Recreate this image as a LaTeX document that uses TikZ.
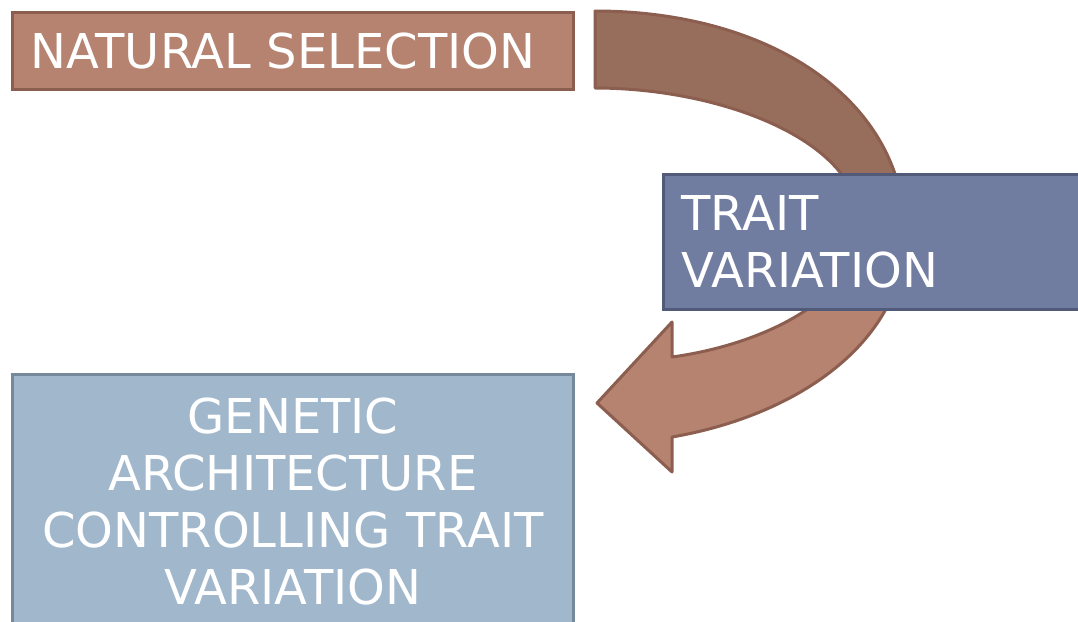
\documentclass[tikz,border=0pt]{standalone}
\usepackage{fontspec}
\setmainfont{DejaVu Sans}
\usetikzlibrary{positioning}
\definecolor{selbrown}{RGB}{182,131,112}
\definecolor{selborder}{RGB}{140,94,80}
\definecolor{darkbrown}{RGB}{151,109,92}
\definecolor{traitblue}{RGB}{113,124,161}
\definecolor{traitborder}{RGB}{82,90,122}
\definecolor{genblue}{RGB}{161,183,204}
\definecolor{genborder}{RGB}{118,137,155}
\def\curvedarrow{(595,11) .. controls (770,11) and (905,100) .. (905,235)
  .. controls (905,340) and (800,415) .. (672,437) -- (672,472) -- (597,403)
  -- (672,322) -- (672,357) .. controls (760,345) and (860,300) .. (860,225)
  .. controls (860,140) and (720,88) .. (595,88) -- cycle}

\begin{document}
\begin{tikzpicture}[
    x=1pt, y=-1pt,
    bigbox/.style={draw, rectangle, line width=3pt, inner ysep=0pt, inner xsep=18pt, text=white, font=\fontsize{48}{57}\selectfont},
]
    \useasboundingbox (0,0) rectangle (1078,621);
    \fill[selbrown] \curvedarrow;
    \begin{scope}
        \clip (580,0) rectangle (1000,240);
        \fill[darkbrown] \curvedarrow;
    \end{scope}
    \draw[selborder, line width=3pt, line join=round] \curvedarrow;
    \node[bigbox, fill=selbrown, draw=selborder, anchor=north west, minimum width=561pt, minimum height=77pt, text width=525pt, align=left] (natsel) at (11,11) {NATURAL SELECTION};
    \node[bigbox, fill=traitblue, draw=traitborder, anchor=north west, minimum width=430pt, minimum height=135pt, text width=394pt, align=left] (trait) at (662,173) {TRAIT\\VARIATION};
    \node[bigbox, fill=genblue, draw=genborder, anchor=north west, minimum width=561pt, minimum height=255pt, text width=525pt, align=center] (genarch) at (11,373) {GENETIC\\ARCHITECTURE\\CONTROLLING TRAIT\\VARIATION};
\end{tikzpicture}
\end{document}
